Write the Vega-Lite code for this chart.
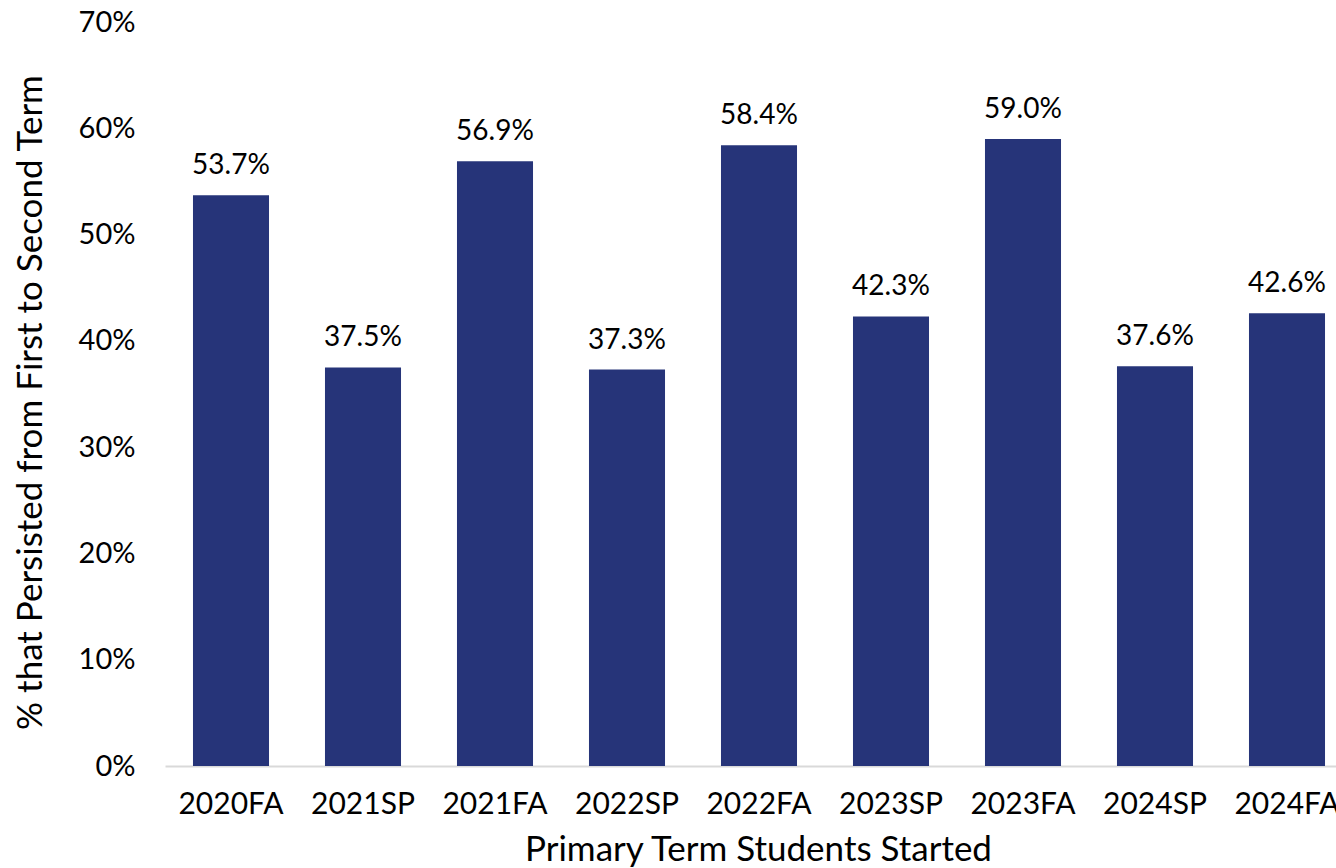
{
  "$schema": "https://vega.github.io/schema/vega-lite/v6.json",
  "autosize": {"type": "none"},
  "padding": {"left": 165, "top": 22, "right": 0, "bottom": 102},
  "width": 1171,
  "height": 744,
  "background": "white",
  "config": {
    "view": {"stroke": null},
    "font": "Lato"
  },
  "data": {
    "values": [
      {"term": "2020FA", "rate": 0.537},
      {"term": "2021SP", "rate": 0.375},
      {"term": "2021FA", "rate": 0.569},
      {"term": "2022SP", "rate": 0.373},
      {"term": "2022FA", "rate": 0.584},
      {"term": "2023SP", "rate": 0.423},
      {"term": "2023FA", "rate": 0.590},
      {"term": "2024SP", "rate": 0.376},
      {"term": "2024FA", "rate": 0.426}
    ]
  },
  "encoding": {
    "x": {
      "field": "term",
      "type": "nominal",
      "sort": null,
      "scale": {"range": [0, 1188], "paddingInner": 0.424, "paddingOuter": 0.212},
      "axis": {
        "title": "Primary Term Students Started",
        "titleFontSize": 35,
        "titleFontWeight": "normal",
        "titleColor": "black",
        "titleX": 593,
        "titleY": 94,
        "titleBaseline": "alphabetic",
        "titleAlign": "center",
        "labelAngle": 0,
        "labelFontSize": 30,
        "labelColor": "black",
        "labelPadding": 47,
        "labelBaseline": "alphabetic",
        "ticks": false,
        "domainColor": "#d9d9d9",
        "domainWidth": 2,
        "labelOverlap": false
      }
    },
    "y": {
      "field": "rate",
      "type": "quantitative",
      "scale": {"domain": [0, 0.7], "nice": false},
      "axis": {
        "title": "% that Persisted from First to Second Term",
        "titleFontSize": 35,
        "titleFontWeight": "normal",
        "titleColor": "black",
        "titleX": -124,
        "titleY": 380,
        "titleAngle": -90,
        "titleBaseline": "alphabetic",
        "titleAlign": "center",
        "format": ".0%",
        "values": [0, 0.1, 0.2, 0.3, 0.4, 0.5, 0.6, 0.7],
        "labelFontSize": 29,
        "labelColor": "black",
        "labelPadding": 30,
        "ticks": false,
        "domain": false,
        "grid": false
      }
    }
  },
  "layer": [
    {"mark": {"type": "bar", "color": "#263479"}},
    {
      "mark": {"type": "text", "baseline": "alphabetic", "dy": -21, "fontSize": 28, "color": "black"},
      "encoding": {"text": {"field": "rate", "type": "quantitative", "format": ".1%"}}
    }
  ]
}
